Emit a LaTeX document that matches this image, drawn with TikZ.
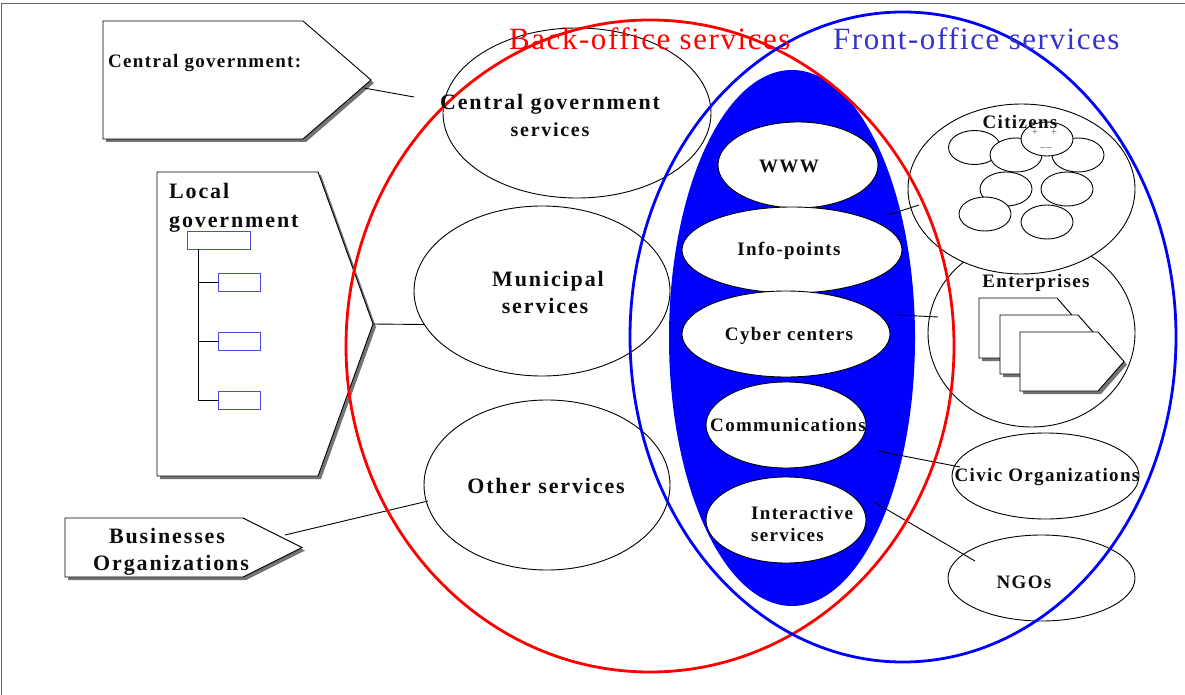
\documentclass[tikz,border=0pt]{standalone}
\usepackage{fontspec}
\setmainfont{Liberation Serif}
\usetikzlibrary{shapes.geometric}
\newfontfamily\lblfont[LetterSpace=8.5]{Liberation Serif Bold}
\newfontfamily\lblsfont[LetterSpace=7]{Liberation Serif Bold}
\newfontfamily\ttlfont[LetterSpace=5]{Liberation Serif}
\definecolor{ttlblue}{rgb}{0.2,0.2,0.8}
\definecolor{orgblue}{rgb}{0.3,0.3,0.85}
\tikzset{
  oval/.style={ellipse,draw=black,fill=white,line width=0.9pt,inner sep=0pt,outer sep=0pt},
  pent/.style={draw=black,fill=white,line width=0.9pt},
  pshadow/.style={fill=black!55,draw=none},
  lbl/.style={font=\lblfont\fontsize{22}{27}\selectfont,align=center,text=black!95,inner sep=0pt},
  lbls/.style={font=\lblsfont\fontsize{19}{22.5}\selectfont,align=center,text=black!95,inner sep=0pt},
  ttl/.style={font=\ttlfont\fontsize{31}{32}\selectfont,inner sep=0pt},
  sign/.style={font=\fontsize{11}{11}\selectfont,text=black!65,inner sep=0pt},
  conn/.style={draw=black,line width=0.9pt},
  orgbox/.style={draw=orgblue,fill=white,line width=0.8pt,inner sep=0pt},
  ring/.style={ellipse,line width=2.8pt,inner sep=0pt,outer sep=0pt}
}
\newcommand{\pentagon}[6]{% x y w tip h name
  \fill[pshadow] (#1+3,#2+3) -- ++(#3,0) -- ++(#4,#5/2) -- ++(-#4,#5/2) -- ++(-#3,0) -- cycle;
  \draw[pent] (#1,#2) -- ++(#3,0) -- ++(#4,#5/2) coordinate (#6) -- ++(-#4,#5/2) -- ++(-#3,0) -- cycle;
}
\begin{document}
\begin{tikzpicture}[x=1pt,y=-1pt]
\useasboundingbox (0,0) rectangle (1185,695);
\fill[white] (0,0) rectangle (1185,695);
\draw[black!60,line width=0.8pt] (1,695) -- (1,3) -- (1185,3);
% left pentagons
\pentagon{103}{21}{200}{68}{118}{cgtip}
\pentagon{157}{172}{161}{55}{304}{lgtip}
\pentagon{65}{518}{178}{59}{59}{bztip}
\node[lbls,anchor=west] (cgl) at (108,63) {Central government:};
\node[lbl,font=\lblfont\fontsize{22}{29}\selectfont,anchor=north west,align=left] (lgl) at (169,183) {Local\\government};
\node[lbl] (bzl) at (171,552) {\hspace*{-8pt}Businesses\\Organizations};
% org chart
\node[orgbox,minimum width=63pt,minimum height=18pt] (o0) at (218.5,240) {};
\node[orgbox,minimum width=42pt,minimum height=18pt] (o1) at (239,282) {};
\node[orgbox,minimum width=42pt,minimum height=18pt] (o2) at (239,341) {};
\node[orgbox,minimum width=42pt,minimum height=18pt] (o3) at (239,400) {};
\coordinate (trunk) at (198,249);
\draw[conn] (trunk) -- (198,400) -- (o3.west);
\draw[conn] (198,282) -- (o1.west);
\draw[conn] (198,341) -- (o2.west);
% left ovals
\node[oval,minimum width=268pt,minimum height=170pt] (cg) at (577,113) {};
\node[oval,minimum width=256pt,minimum height=170pt] (mu) at (542,291) {};
\node[oval,minimum width=246pt,minimum height=170pt] (ot) at (547,485) {};
% connectors left
\coordinate (cgs) at (364,88);
\coordinate (cge) at (414,97);
\coordinate (mue) at (424,324.5);
\coordinate (bzs) at (285,535);
\coordinate (bze) at (428,501);
\draw[conn] (cgs) -- (cge);
\draw[conn] (lgtip) -- (mue);
\draw[conn] (bzs) -- (bze);
% right ovals
\node[oval,minimum width=207pt,minimum height=188pt] (en) at (1031.5,333) {};
\node[oval,minimum width=227pt,minimum height=170pt] (ci) at (1021.5,189) {};
\node[oval,minimum width=187pt,minimum height=86pt] (co) at (1045.5,476) {};
\node[oval,minimum width=187pt,minimum height=86pt] (ng) at (1041.5,578) {};
% citizens
\foreach \n/\x/\y in {c1/974.5/147.5,c2/1016/155,c3/1078/155,c4/1047/139,c5/1006/189,c6/1067/189,c7/985/214,c8/1047/222}{
  \node[oval,minimum width=52pt,minimum height=34pt] (\n) at (\x,\y) {};
}
\node[sign] (pa) at (1035,132) {+};
\node[sign] (pb) at (1054,132) {+};
\node[sign] (mi) at (1046,150) {−−};
% enterprises pentagons
\pentagon{979}{298}{78}{26}{60}{e1tip}
\pentagon{1000}{315}{78}{26}{59}{e2tip}
\pentagon{1020}{332}{78}{26}{59}{e3tip}
% blue core
\node[ellipse,fill=blue,minimum width=246pt,minimum height=536pt,inner sep=0pt] (core) at (792,338) {};
\node[oval,minimum width=160pt,minimum height=86pt] (w) at (798,165) {};
\node[oval,minimum width=220pt,minimum height=86pt] (i) at (792,250) {};
\node[oval,minimum width=208pt,minimum height=86pt] (cy) at (786,334) {};
\node[oval,minimum width=160pt,minimum height=86pt] (cm) at (786,425) {};
\node[oval,minimum width=160pt,minimum height=86pt] (is) at (786,520) {};
% right connectors
\coordinate (a1) at (888,215);\coordinate (a2) at (919,205);
\coordinate (b1) at (898,315);\coordinate (b2) at (938,317);
\coordinate (d1) at (878,451);\coordinate (d2) at (960,467);
\coordinate (f1) at (874,502);\coordinate (f2) at (975,561);
\draw[conn] (a1) -- (a2);
\draw[conn] (b1) -- (b2);
\draw[conn] (d1) -- (d2);
\draw[conn] (f1) -- (f2);
% rings
\node[ring,draw=red,minimum width=608pt,minimum height=652pt] (back) at (650,346) {};
\node[ring,draw=blue,minimum width=546pt,minimum height=650pt] (front) at (903,337) {};
% texts
\node[ttl,text=red,anchor=base west] (tb) at (509,50) {Back-office services};
\node[ttl,text=ttlblue,anchor=base west] (tf) at (833,50) {Front-office services};
\node[lbl] (cgt) at (550,115) {Central government\\{\fontsize{20}{27}\selectfont services}};
\node[lbl] (mut) at (548,292) {Municipal\\\hspace*{-6pt}services};
\node[lbl] (ott) at (546,486) {Other services};
\node[lbls] (wt) at (789,166) {WWW};
\node[lbls] (it) at (789,251) {Info-points};
\node[lbls] (cyt) at (789,336) {Cyber centers};
\node[lbls] (cmt) at (788,425) {Communications};
\node[lbls,anchor=west,align=left] (ist) at (751,524) {Interactive\\services};
\node[lbls] (citt) at (1020,122) {Citizens};
\node[lbls] (ent) at (1036,283) {Enterprises};
\node[lbls] (cot) at (1047,477) {Civic Organizations};
\node[lbls] (ngt) at (1024,582) {NGOs};
\end{tikzpicture}
\end{document}
